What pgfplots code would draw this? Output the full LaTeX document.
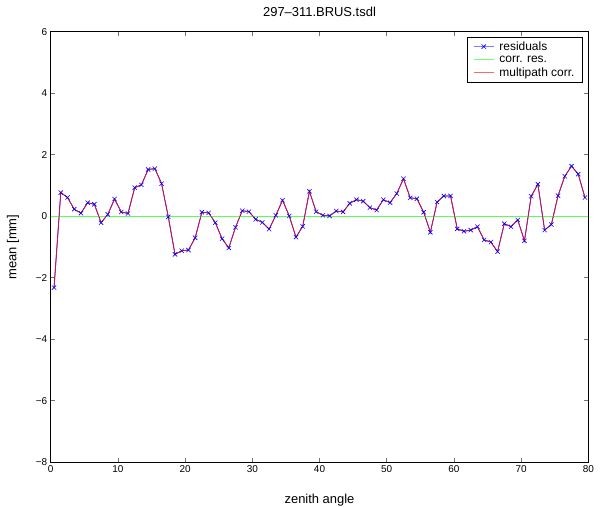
\documentclass[border=0pt]{standalone}
\usepackage{fontspec}
\setmainfont{Liberation Sans}
\usepackage{pgfplots}
\usepackage{pgfplotstable}
\pgfplotsset{compat=1.18}
\pgfplotstableread{
x y
0.5 -2.32
1.5 0.77
2.5 0.61
3.5 0.23
4.5 0.10
5.5 0.44
6.5 0.39
7.5 -0.21
8.5 0.06
9.5 0.56
10.5 0.14
11.5 0.09
12.5 0.93
13.5 1.02
14.5 1.52
15.5 1.55
16.5 1.06
17.5 -0.02
18.5 -1.24
19.5 -1.12
20.5 -1.10
21.5 -0.70
22.5 0.13
23.5 0.11
24.5 -0.21
25.5 -0.73
26.5 -1.03
27.5 -0.36
28.5 0.18
29.5 0.15
30.5 -0.10
31.5 -0.20
32.5 -0.42
33.5 0.03
34.5 0.52
35.5 0.01
36.5 -0.68
37.5 -0.33
38.5 0.81
39.5 0.15
40.5 0.03
41.5 0.01
42.5 0.17
43.5 0.14
44.5 0.42
45.5 0.54
46.5 0.49
47.5 0.28
48.5 0.20
49.5 0.54
50.5 0.44
51.5 0.74
52.5 1.22
53.5 0.60
54.5 0.57
55.5 0.13
56.5 -0.52
57.5 0.46
58.5 0.66
59.5 0.66
60.5 -0.41
61.5 -0.49
62.5 -0.45
63.5 -0.34
64.5 -0.77
65.5 -0.84
66.5 -1.15
67.5 -0.24
68.5 -0.34
69.5 -0.12
70.5 -0.80
71.5 0.65
72.5 1.04
73.5 -0.45
74.5 -0.27
75.5 0.67
76.5 1.30
77.5 1.63
78.5 1.37
79.5 0.61
}\resdata
\definecolor{mred}{rgb}{0.85,0.05,0.25}
\definecolor{lred}{rgb}{1,0.4,0.4}
\definecolor{mgreen}{rgb}{0.35,1,0.35}
\definecolor{lgreen}{rgb}{0.45,1,0.45}
\definecolor{lblue}{rgb}{0.5,0.5,1}
\begin{document}
\begin{tikzpicture}
\useasboundingbox (0,0) rectangle (600bp,507bp);
\begin{axis}[
  at={(50.7bp,44.7bp)}, anchor=south west,
  scale only axis, width=537.6bp, height=430.6bp,
  xmin=0, xmax=80, ymin=-8, ymax=6,
  xtick={0,10,...,80}, ytick={-8,-6,...,6},
  yticklabels={−8,−6,−4,−2,0,2,4,6},
  tick align=inside, tick pos=both, major tick length=4bp,
  axis line style={line width=0.8bp},
  tick style={line width=0.6bp, black!55},
  ticklabel style={font=\fontsize{10}{12}\selectfont, black},
  /pgf/number format/assume math mode=true,
  every axis title shift=0pt,
  title={297–311.BRUS.tsdl},
  title style={at={(axis description cs:0.5,1.0457)}, anchor=center, font=\fontsize{13}{15}\selectfont},
  xlabel={zenith angle},
  xlabel style={at={(axis description cs:0.5,-0.0876)}, anchor=center, font=\fontsize{13}{15}\selectfont},
  ylabel={mean [mm]},
  ylabel style={font=\fontsize{13}{15}\selectfont},
  ylabel shift=10bp,
  legend style={at={(axis description cs:1,1)}, anchor=north east, xshift=-5.6bp, yshift=-5.6bp,
    font=\fontsize{12}{13}\selectfont, inner xsep=6bp, inner ysep=2bp,
    row sep=0bp, column sep=3bp, legend cell align=left},
  legend image code/.code={\draw[mark repeat=2,mark phase=2,#1] plot coordinates {(0bp,0bp) (10bp,0bp) (20bp,0bp)};},
]
\addplot[blue, line width=0.7bp, mark=x, mark size=3bp, mark options={solid, line width=0.6bp}, forget plot] table {\resdata};
\addplot[mgreen, line width=0.8bp, forget plot] coordinates {(0,0) (80,0)};
\addplot[mred, line width=0.8bp, forget plot] table {\resdata};
\addlegendimage{lblue, line width=1bp, mark=x, mark size=3bp, mark options={solid, blue, line width=0.6bp}}
\addlegendentry{residuals}
\addlegendimage{lgreen, line width=1.3bp}
\addlegendentry{corr. res.}
\addlegendimage{lred, line width=1bp}
\addlegendentry{multipath corr.}
\end{axis}
\end{tikzpicture}
\end{document}
